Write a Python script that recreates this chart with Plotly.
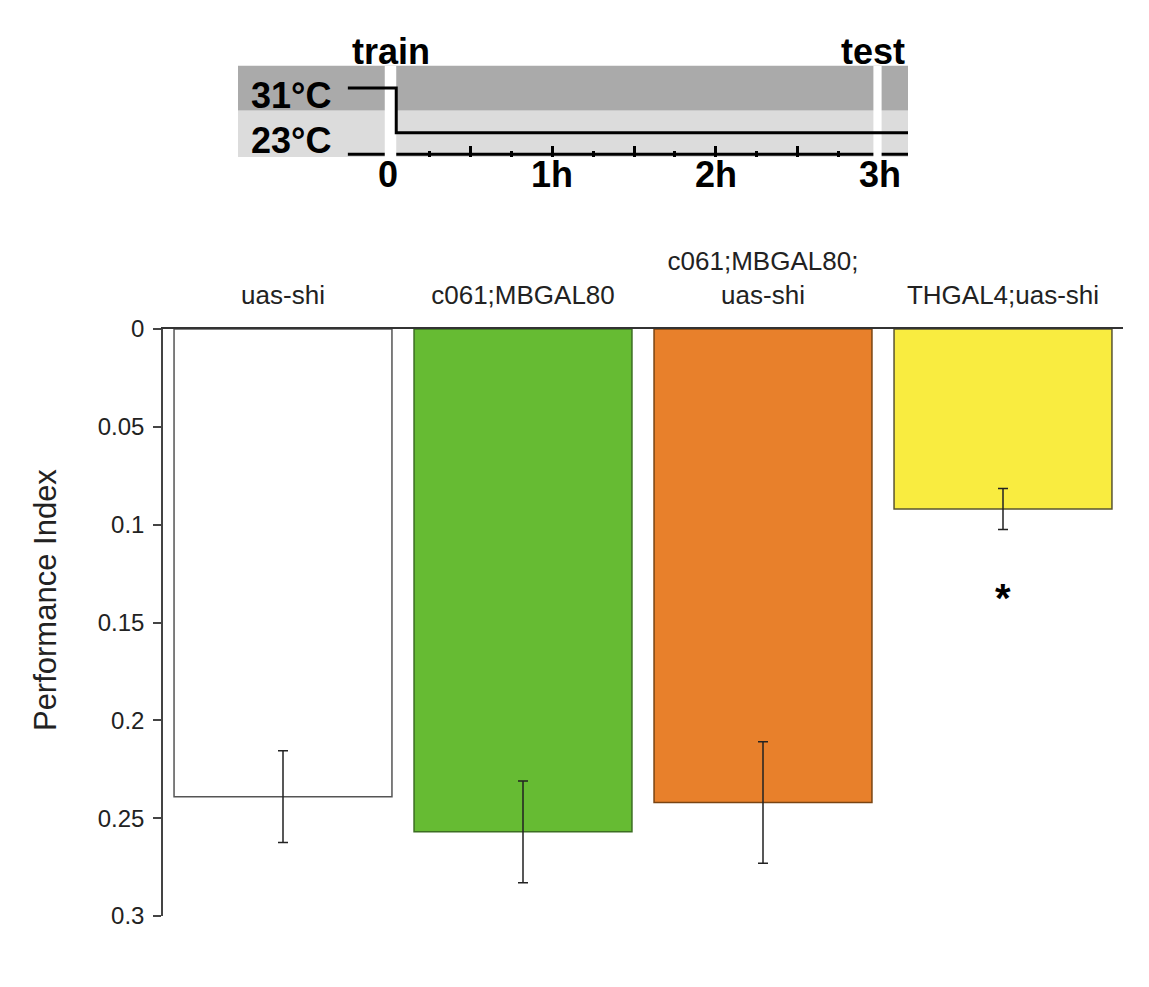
import plotly.graph_objects as go

# ---- main bar chart data ----
genotypes = ["uas-shi", "c061;MBGAL80", "c061;MBGAL80;<br>uas-shi", "THGAL4;uas-shi"]
performance = [0.239, 0.257, 0.242, 0.092]
sem = [0.0235, 0.026, 0.031, 0.0105]
bar_fill = ["#FFFFFF", "#66BB33", "#E8802B", "#F9EC40"]
bar_edge = ["#555555", "#3C6E22", "#7A4412", "#5A5530"]
y_ticks = [0, 0.05, 0.1, 0.15, 0.2, 0.25, 0.3]
y_ticktext = ["0", "0.05", "0.1", "0.15", "0.2", "0.25", "0.3"]
significant = ["THGAL4;uas-shi"]

# ---- temperature protocol schematic data (hours / degC) ----
step_time = [-0.245, 0.05, 3.171]
step_temp = [31, 23, 23]
temp_levels = [31, 23]
temp_labels = ["31°C", "23°C"]
band_edges = [18.7, 27, 35]          # 23 degC band, 31 degC band
window_names = ["train", "test"]
window_start = [-0.02, 2.96]
window_end = [0.05, 3.01]
hour_ticks = [0, 1, 2, 3]
hour_labels = ["0", "1h", "2h", "3h"]
half_hour_ticks = [0.5, 1, 1.5, 2, 2.5]
quarter_ticks = [0.25, 0.75, 1.25, 1.75, 2.25, 2.75]
time_range = [-0.915, 3.171]

FONT = "Liberation Sans"
SCHEMA_SIZE = 36

fig = go.Figure()

# bars hanging from zero on a reversed axis
fig.add_trace(go.Bar(
    x=genotypes, y=performance, width=0.908,
    marker=dict(color=bar_fill, line=dict(color=bar_edge, width=1.5)),
    error_y=dict(type="data", array=sem, color="#222222", thickness=1.5, width=5),
    xaxis="x", yaxis="y", showlegend=False,
))

# schematic: time axis line
fig.add_trace(go.Scatter(
    x=[step_time[0], time_range[1]], y=[19.2, 19.2], mode="lines",
    line=dict(color="black", width=3), xaxis="x2", yaxis="y2",
    showlegend=False, hoverinfo="skip",
))
# schematic: training / test windows
for s, e in zip(window_start, window_end):
    fig.add_trace(go.Scatter(
        x=[s, e, e, s, s],
        y=[band_edges[0], band_edges[0], band_edges[-1], band_edges[-1], band_edges[0]],
        mode="lines", fill="toself", fillcolor="white", line=dict(width=0),
        xaxis="x2", yaxis="y2", showlegend=False, hoverinfo="skip",
    ))
# schematic: temperature step
fig.add_trace(go.Scatter(
    x=step_time, y=[31] + step_temp[1:], mode="lines", line_shape="hv",
    line=dict(color="black", width=3), xaxis="x2", yaxis="y2",
    showlegend=False, hoverinfo="skip",
))
# carrier for the hour labels axis
fig.add_trace(go.Scatter(x=[], y=[], xaxis="x3", yaxis="y2", showlegend=False))

# temperature bands
band_colors = ["#DCDCDC", "#AAAAAA"]
for i, c in enumerate(band_colors):
    fig.add_shape(type="rect", xref="x2 domain", yref="y2", x0=0, x1=1,
                  y0=band_edges[i], y1=band_edges[i + 1],
                  fillcolor=c, line=dict(width=0), layer="below")

annotations = []
for name, s, e, dx in zip(window_names, window_start, window_end, [0, -5]):
    annotations.append(dict(
        x=(s + e) / 2, xref="x2", y=0.98744, yref="paper", text=name,
        showarrow=False, xanchor="center", yanchor="middle", xshift=dx,
        font=dict(family=FONT, size=SCHEMA_SIZE, color="black", weight="bold"),
    ))
for t, lab in zip(temp_levels, temp_labels):
    annotations.append(dict(
        x=0, xref="x2 domain", y=t, yref="y2", text=lab,
        showarrow=False, xanchor="left", yanchor="middle", xshift=11, yshift=-8,
        font=dict(family=FONT, size=SCHEMA_SIZE, color="black", weight="bold"),
    ))
for g in significant:
    i = genotypes.index(g)
    annotations.append(dict(
        x=g, xref="x", y=performance[i] + sem[i] + 0.035, yref="y", text="*",
        showarrow=False, xanchor="center", yanchor="middle",
        font=dict(family=FONT, size=40, color="black", weight="bold"),
    ))
annotations.append(dict(
    x=-0.1229, xref="paper", y=0.3607, yref="paper", text="Performance Index",
    textangle=-90, showarrow=False, xanchor="center", yanchor="middle",
    font=dict(family=FONT, size=31, color="#222222"),
))

fig.update_layout(
    width=1149, height=987,
    margin=dict(l=163, r=26, t=40, b=71),
    paper_bgcolor="white", plot_bgcolor="rgba(0,0,0,0)",
    bargap=0.092,
    annotations=annotations,
    xaxis=dict(
        domain=[0, 1], range=[-0.5, 3.5], side="top", anchor="y",
        showline=True, linecolor="#333333", linewidth=1.5,
        ticks="", showgrid=False, zeroline=False,
        tickfont=dict(family=FONT, size=26, color="#222222"),
        ticklabelstandoff=13,
    ),
    yaxis=dict(
        domain=[0, 0.67009], range=[0.3, 0], anchor="x",
        tickvals=y_ticks, ticktext=y_ticktext,
        showline=True, linecolor="#444444", linewidth=1.5,
        ticks="outside", ticklen=8, tickwidth=1.5, tickcolor="#444444",
        showgrid=False, zeroline=False,
        tickfont=dict(family=FONT, size=24, color="#222222"),
        ticklabelstandoff=4,
    ),
    xaxis2=dict(
        domain=[0.078125, 0.776042], range=time_range, anchor="y2",
        tickvals=half_hour_ticks, ticks="inside", ticklen=11, tickwidth=2.5,
        tickcolor="black", showticklabels=False,
        minor=dict(tickvals=quarter_ticks, ticks="inside", ticklen=6,
                   tickwidth=2.5, tickcolor="black"),
        showgrid=False, zeroline=False, showline=False,
    ),
    xaxis3=dict(
        domain=[0.078125, 0.776042], range=time_range, anchor="y2",
        overlaying="x2", tickvals=hour_ticks, ticktext=hour_labels,
        ticks="", showgrid=False, zeroline=False, showline=False,
        tickfont=dict(family=FONT, size=SCHEMA_SIZE, color="black", weight="bold"),
        ticklabelstandoff=-7,
    ),
    yaxis2=dict(
        domain=[0.86644, 0.97089], range=[band_edges[0], band_edges[-1]],
        anchor="x2", showticklabels=False, ticks="",
        showgrid=False, zeroline=False, showline=False,
    ),
)

fig.write_html("out.html")
